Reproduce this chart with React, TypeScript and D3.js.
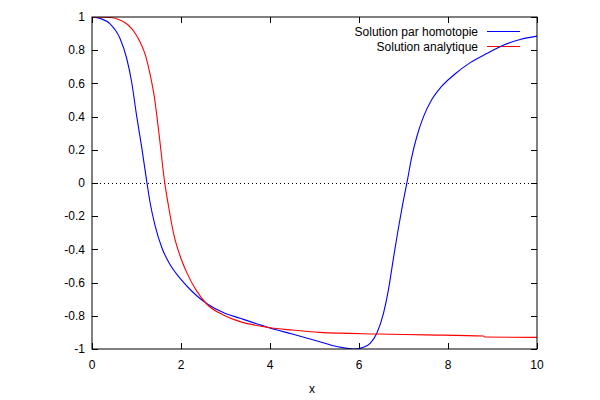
import { useRef, useEffect } from "react";
import * as d3 from "d3";

// x ticks / y ticks as gnuplot prints them
const xTicks = [0, 2, 4, 6, 8, 10];
const yTicks = [1, 0.8, 0.6, 0.4, 0.2, 0, -0.2, -0.4, -0.6, -0.8, -1];

// Solution par homotopie (blue)
const homX = [
  0, 0.2, 0.4, 0.63, 0.78, 0.89, 1.0, 1.12, 1.23, 1.3, 1.42, 1.57, 1.75, 1.98,
  2.2, 2.4, 2.6, 2.95, 3.33, 3.96, 4.5, 5.12, 5.5, 5.9, 6.1, 6.25, 6.4, 6.55,
  6.66, 6.77, 6.88, 6.98, 7.09, 7.18, 7.3, 7.45, 7.63, 7.85, 8.15, 8.5, 8.87,
  9.24, 9.62, 10,
];
const homY = [
  1, 0.99, 0.96, 0.87, 0.75, 0.61, 0.41, 0.21, 0.01, -0.11, -0.26, -0.39, -0.49,
  -0.575, -0.64, -0.69, -0.73, -0.78, -0.815, -0.87, -0.91, -0.956, -0.985,
  -1.0, -0.99, -0.966, -0.905, -0.785, -0.645, -0.46, -0.28, -0.13, 0.02,
  0.15, 0.28, 0.4, 0.5, 0.58, 0.655, 0.725, 0.78, 0.83, 0.865, 0.885,
];

// Solution analytique (red)
const anaX = [
  0, 0.4, 0.6, 0.8, 0.95, 1.08, 1.2, 1.3, 1.4, 1.5, 1.63, 1.72, 1.83, 1.98,
  2.13, 2.35, 2.6, 2.95, 3.33, 3.96, 4.5, 5.12, 6.4, 7.5, 8.8, 8.82, 10,
];
const anaY = [
  1, 0.997, 0.985, 0.955, 0.91, 0.85, 0.77, 0.66, 0.52, 0.31, 0.01, -0.14,
  -0.3, -0.44, -0.54, -0.65, -0.735, -0.795, -0.835, -0.87, -0.886, -0.9,
  -0.91, -0.915, -0.922, -0.928, -0.93,
];

const series = [
  { name: "Solution par homotopie", xs: homX, ys: homY, color: "#0000ff" },
  { name: "Solution analytique", xs: anaX, ys: anaY, color: "#ff0000" },
];

const App = () => {
  const chartRef = useRef<SVGSVGElement | null>(null);

  useEffect(() => {
    if (chartRef.current === null) return;
    document.body.style.margin = "0";

    const width = 600;
    const height = 400;
    const margin = { top: 17, right: 63, bottom: 51, left: 92 };
    const font = "'Liberation Sans', Arial, sans-serif";

    const svg = d3.select(chartRef.current);
    svg.selectAll("*").remove();
    svg.attr("width", width).attr("height", height);

    const x = d3
      .scaleLinear()
      .domain([0, 10])
      .range([margin.left, width - margin.right]);
    const y = d3
      .scaleLinear()
      .domain([-1, 1])
      .range([height - margin.bottom, margin.top]);

    // zero line, dotted
    svg
      .append("line")
      .attr("x1", x(0))
      .attr("x2", x(10))
      .attr("y1", Math.round(y(0)) + 0.5)
      .attr("y2", Math.round(y(0)) + 0.5)
      .attr("stroke", "#000")
      .attr("stroke-width", 1)
      .attr("stroke-dasharray", "1,3");

    // inward ticks on all four sides
    const tickLen = 6;
    const axes = svg.append("g").attr("stroke", "#000").attr("stroke-width", 1);
    xTicks.forEach((t) => {
      const px = Math.round(x(t)) + 0.5;
      axes.append("line").attr("x1", px).attr("x2", px)
        .attr("y1", y(-1)).attr("y2", y(-1) - tickLen);
      axes.append("line").attr("x1", px).attr("x2", px)
        .attr("y1", y(1)).attr("y2", y(1) + tickLen);
    });
    yTicks.forEach((t) => {
      const py = Math.round(y(t)) + 0.5;
      axes.append("line").attr("x1", x(0)).attr("x2", x(0) + tickLen)
        .attr("y1", py).attr("y2", py);
      axes.append("line").attr("x1", x(10)).attr("x2", x(10) - tickLen)
        .attr("y1", py).attr("y2", py);
    });

    // tick labels
    svg
      .append("g")
      .selectAll("text")
      .data(xTicks)
      .enter()
      .append("text")
      .attr("x", (d) => x(d))
      .attr("y", y(-1) + 16)
      .attr("dy", "0.35em")
      .attr("text-anchor", "middle")
      .attr("font-family", font)
      .attr("font-size", 12)
      .text((d) => String(d));

    svg
      .append("g")
      .selectAll("text")
      .data(yTicks)
      .enter()
      .append("text")
      .attr("x", x(0) - 7)
      .attr("y", (d) => y(d))
      .attr("dy", "0.35em")
      .attr("text-anchor", "end")
      .attr("font-family", font)
      .attr("font-size", 12)
      .text((d) => String(d));

    svg
      .append("text")
      .attr("x", 312)
      .attr("y", 389)
      .attr("dy", "0.35em")
      .attr("text-anchor", "middle")
      .attr("font-family", font)
      .attr("font-size", 12)
      .text("x");

    // curves, clipped to the plot box like gnuplot does
    const clipId = "plot-clip";
    svg
      .append("clipPath")
      .attr("id", clipId)
      .append("rect")
      .attr("x", x(0))
      .attr("y", y(1))
      .attr("width", x(10) - x(0))
      .attr("height", y(-1) - y(1));

    const line = d3
      .line<[number, number]>()
      .x((d) => x(d[0]))
      .y((d) => y(d[1]))
      .curve(d3.curveMonotoneX);

    // legend first, the curves go over it
    const legend = svg.append("g");
    series.forEach((s, i) => {
      const ly = 31.5 + i * 15;
      legend
        .append("text")
        .attr("x", 478)
        .attr("y", ly)
        .attr("dy", "0.35em")
        .attr("text-anchor", "end")
        .attr("font-family", font)
        .attr("font-size", 12)
        .text(s.name);
      legend
        .append("line")
        .attr("x1", 487)
        .attr("x2", 520)
        .attr("y1", ly)
        .attr("y2", ly)
        .attr("stroke", s.color)
        .attr("stroke-width", 1);
    });

    series.forEach((s) => {
      const pts: [number, number][] = s.xs.map((v, i) => [v, s.ys[i]]);
      svg
        .append("path")
        .attr("d", line(pts) ?? "")
        .attr("fill", "none")
        .attr("stroke", s.color)
        .attr("stroke-width", 1.1)
        .attr("clip-path", `url(#${clipId})`);
    });

    // border
    svg
      .append("rect")
      .attr("x", x(0))
      .attr("y", y(1))
      .attr("width", x(10) - x(0))
      .attr("height", y(-1) - y(1))
      .attr("fill", "none")
      .attr("stroke", "#000")
      .attr("stroke-width", 1);
  }, []);

  return <svg ref={chartRef} style={{ display: "block" }} />;
};

export default App;
